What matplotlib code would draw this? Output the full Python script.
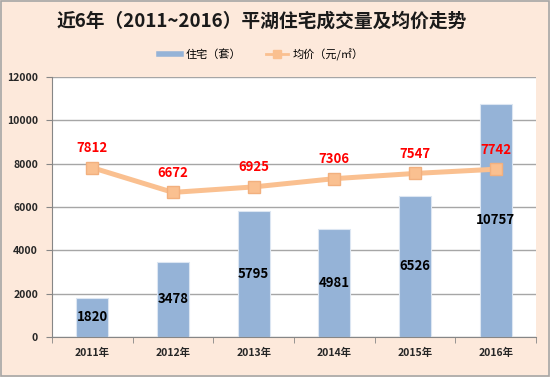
import matplotlib.pyplot as plt
from matplotlib.patches import Rectangle, Patch
from matplotlib.lines import Line2D

plt.rcParams['font.family'] = ['Noto Sans CJK SC', 'DejaVu Sans']

years = ['2011年', '2012年', '2013年', '2014年', '2015年', '2016年']
units = [1820, 3478, 5795, 4981, 6526, 10757]
prices = [7812, 6672, 6925, 7306, 7547, 7742]

bg = '#FDE9DB'
bar_color = '#95B3D7'
line_color = '#FAC090'

fig = plt.figure(figsize=(5.5, 3.77), dpi=100, facecolor=bg)
fig.patches.append(Rectangle((0.002, 0.003), 0.996, 0.994, transform=fig.transFigure,
                             fill=False, edgecolor='#A6A6A6', linewidth=1.2))
ax = fig.add_axes([0.0945, 0.106, 0.88, 0.69])
ax.set_facecolor('white')

x = list(range(len(years)))
ax.bar(x, units, width=0.4, color=bar_color, edgecolor='#DCE6F2', linewidth=0.8, zorder=2)
ax.plot(x, prices, color=line_color, linewidth=3.6, marker='s', markersize=9,
        markerfacecolor=line_color, markeredgecolor='#F2B07E', zorder=3)

for xi, v in zip(x, units):
    ax.text(xi, v / 2, str(v), ha='center', va='center', fontsize=9.5,
            fontweight='bold', color='black', zorder=4)
for xi, v in zip(x, prices):
    ax.annotate(str(v), (xi, v), xytext=(0, 14), textcoords='offset points',
                ha='center', va='center', fontsize=9.5, fontweight='bold',
                color='#FF0000', zorder=4)

ax.set_xlim(-0.5, len(years) - 0.5)
ax.set_ylim(0, 12000)
ax.set_yticks(range(0, 12001, 2000))
ax.set_xticks(x)
ax.set_xticklabels(years)
ax.set_xticks([i + 0.5 for i in range(-1, len(years))], minor=True)
ax.tick_params(axis='x', which='major', length=0, pad=8, labelsize=7.5)
ax.tick_params(axis='x', which='minor', length=4, color='#868686')
ax.tick_params(axis='y', length=4, color='#868686', labelsize=7.5, pad=6)
for lab in ax.get_xticklabels() + ax.get_yticklabels():
    lab.set_fontweight('bold')
    lab.set_color('#262626')

ax.grid(axis='y', color='#A6A6A6', linewidth=1, zorder=1)
for s in ['top', 'right']:
    ax.spines[s].set_visible(False)
for s in ['left', 'bottom']:
    ax.spines[s].set_color('#868686')

fig.text(0.475, 0.945, '近6年（2011~2016）平湖住宅成交量及均价走势', ha='center', va='center',
         fontsize=13.5, fontweight='bold', color='#1a1a1a')

handles = [Line2D([], [], color=bar_color, linewidth=4),
           Line2D([], [], color=line_color, linewidth=2, marker='s', markersize=6)]
fig.legend(handles, ['住宅（套）', '均价（元/㎡）'], loc='center', bbox_to_anchor=(0.475, 0.855),
           ncol=2, frameon=False, fontsize=8, handlelength=2.0, columnspacing=2.2,
           handletextpad=0.4)

fig.savefig('out.png', dpi=100, facecolor=bg)
